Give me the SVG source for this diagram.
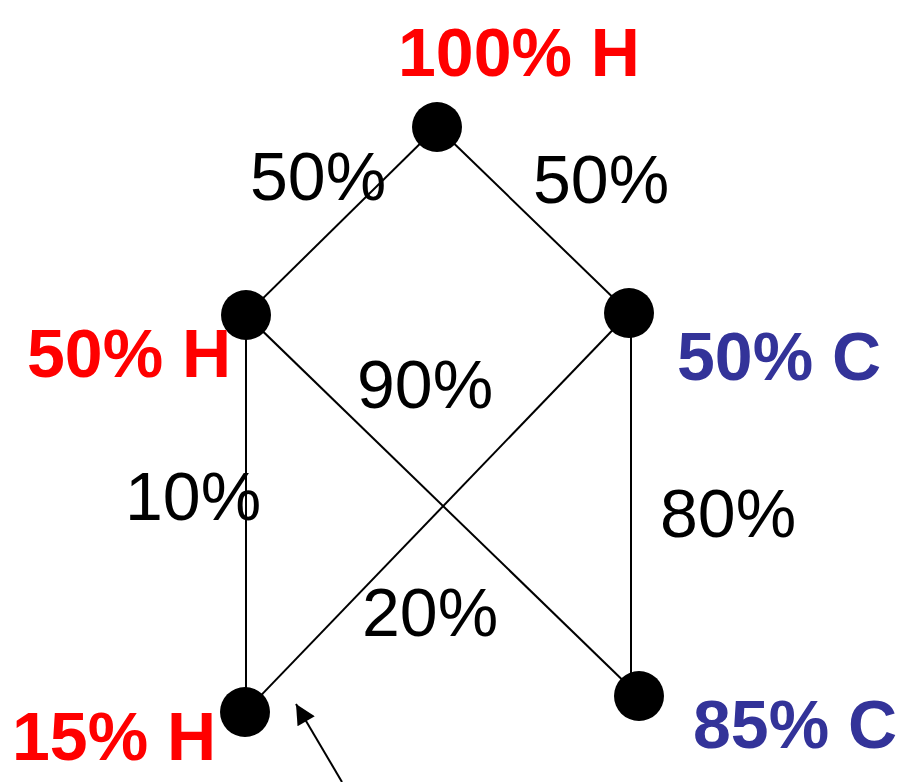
<svg xmlns="http://www.w3.org/2000/svg" width="904" height="782" viewBox="0 0 904 782">
<style>
.edge{stroke:#000;stroke-width:2;fill:none}
.dot{fill:#000}
.lbl{font-family:"Liberation Sans",Arial,sans-serif;font-size:68px;fill:#000}
.h{font-family:"Liberation Sans",Arial,sans-serif;font-size:68px;font-weight:bold;fill:#ff0000}
.c{font-family:"Liberation Sans",Arial,sans-serif;font-size:68px;font-weight:bold;fill:#333399}
</style>
<defs>
<marker id="ah2" viewBox="0 0 20 20" refX="20" refY="10" markerWidth="22" markerHeight="20" markerUnits="userSpaceOnUse" orient="auto">
<path d="M0,0 L20,10 L0,20 z" fill="#000"/>
</marker>
</defs>
<g id="connectors">
<line class="edge" x1="437" y1="127" x2="246" y2="315"/>
<line class="edge" x1="437" y1="127" x2="629" y2="313"/>
<line class="edge" x1="246" y1="315" x2="246" y2="712"/>
<line class="edge" x1="246" y1="315" x2="639" y2="696"/>
<line class="edge" x1="629" y1="313" x2="245" y2="712"/>
<line class="edge" x1="631" y1="313" x2="631" y2="696"/>
<line class="edge" x1="342" y1="782" x2="296" y2="704" stroke-width="3" marker-end="url(#ah2)"/>
<text class="lbl" x="250" y="200">50%</text>
<text class="lbl" x="533" y="203">50%</text>
<text class="lbl" x="357" y="408">90%</text>
<text class="lbl" x="125" y="520">10%</text>
<text class="lbl" x="660" y="537">80%</text>
<text class="lbl" x="362" y="636">20%</text>
</g>
<g id="n100H"><circle class="dot" cx="437" cy="127" r="25"/><text class="h" x="398" y="76">100% H</text></g>
<g id="n50H"><circle class="dot" cx="246" cy="315" r="25"/><text class="h" x="27" y="377">50% H</text></g>
<g id="n50C"><circle class="dot" cx="629" cy="313" r="25"/><text class="c" x="677" y="380">50% C</text></g>
<g id="n15H"><circle class="dot" cx="245" cy="712" r="25"/><text class="h" x="12" y="760">15% H</text></g>
<g id="n85C"><circle class="dot" cx="639" cy="696" r="25"/><text class="c" x="693" y="748">85% C</text></g>
</svg>
